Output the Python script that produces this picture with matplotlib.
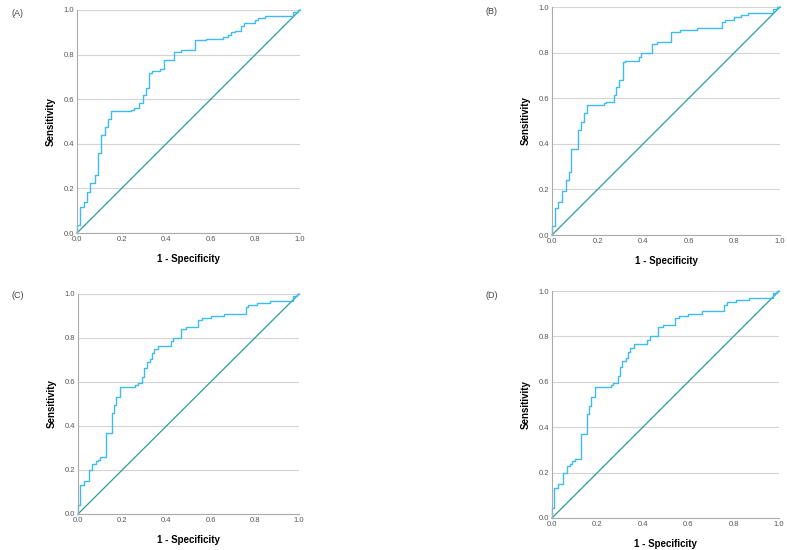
import matplotlib
matplotlib.use("Agg")
import matplotlib.pyplot as plt

plt.rcParams['font.family'] = ['Liberation Sans', 'DejaVu Sans']

# ROC step points: (1 - specificity, sensitivity)
fpr_a = [0, 0, 0.013, 0.013, 0.03, 0.03, 0.045, 0.045, 0.06, 0.06, 0.08, 0.08, 0.093, 0.093,
         0.107, 0.107, 0.124, 0.124, 0.139, 0.139, 0.154, 0.154, 0.24, 0.24, 0.255, 0.255,
         0.28, 0.28, 0.296, 0.296, 0.31, 0.31, 0.325, 0.325, 0.335, 0.335, 0.37, 0.37, 0.39, 0.39,
         0.436, 0.436, 0.465, 0.465, 0.531, 0.531, 0.58, 0.58, 0.654, 0.654, 0.675, 0.675,
         0.69, 0.69, 0.71, 0.71, 0.734, 0.734, 0.75, 0.75, 0.796, 0.796, 0.81, 0.81, 0.845, 0.845,
         0.97, 0.97, 0.99, 0.99, 1.0]
tpr_a = [0, 0.035, 0.035, 0.115, 0.115, 0.14, 0.14, 0.184, 0.184, 0.225, 0.225, 0.26, 0.26, 0.357,
         0.357, 0.44, 0.44, 0.476, 0.476, 0.51, 0.51, 0.545, 0.545, 0.552, 0.552, 0.56,
         0.56, 0.585, 0.585, 0.62, 0.62, 0.649, 0.649, 0.716, 0.716, 0.725, 0.725, 0.735, 0.735, 0.776,
         0.776, 0.81, 0.81, 0.82, 0.82, 0.866, 0.866, 0.872, 0.872, 0.88, 0.88, 0.89,
         0.89, 0.9, 0.9, 0.905, 0.905, 0.93, 0.93, 0.94, 0.94, 0.955, 0.955, 0.965, 0.965, 0.975,
         0.975, 0.99, 0.99, 1.0, 1.0]

fpr_b = [0, 0, 0.013, 0.013, 0.028, 0.028, 0.045, 0.045, 0.06, 0.06, 0.074, 0.074, 0.085, 0.085,
         0.112, 0.112, 0.125, 0.125, 0.14, 0.14, 0.155, 0.155, 0.226, 0.226, 0.235, 0.235,
         0.27, 0.27, 0.28, 0.28, 0.295, 0.295, 0.31, 0.31, 0.32, 0.32, 0.38, 0.38, 0.39, 0.39,
         0.438, 0.438, 0.46, 0.46, 0.52, 0.52, 0.56, 0.56, 0.635, 0.635, 0.745, 0.745,
         0.76, 0.76, 0.8, 0.8, 0.83, 0.83, 0.86, 0.86, 0.97, 0.97, 0.985, 0.985, 1.0]
tpr_b = [0, 0.04, 0.04, 0.12, 0.12, 0.146, 0.146, 0.193, 0.193, 0.24, 0.24, 0.275, 0.275, 0.376,
         0.376, 0.46, 0.46, 0.495, 0.495, 0.534, 0.534, 0.57, 0.57, 0.577, 0.577, 0.585,
         0.585, 0.616, 0.616, 0.65, 0.65, 0.68, 0.68, 0.757, 0.757, 0.765, 0.765, 0.78, 0.78, 0.8,
         0.8, 0.837, 0.837, 0.845, 0.845, 0.891, 0.891, 0.9, 0.9, 0.91, 0.91, 0.935,
         0.935, 0.945, 0.945, 0.955, 0.955, 0.965, 0.965, 0.975, 0.975, 0.99, 0.99, 1.0, 1.0]

fpr_c = [0, 0, 0.011, 0.011, 0.026, 0.026, 0.05, 0.05, 0.065, 0.065, 0.08, 0.08, 0.09, 0.09,
         0.1, 0.1, 0.127, 0.127, 0.154, 0.154, 0.163, 0.163, 0.174, 0.174, 0.189, 0.189,
         0.258, 0.258, 0.27, 0.27, 0.29, 0.29, 0.3, 0.3, 0.31, 0.31, 0.325, 0.325, 0.334, 0.334,
         0.345, 0.345, 0.36, 0.36, 0.42, 0.42, 0.43, 0.43, 0.468, 0.468, 0.49, 0.49,
         0.544, 0.544, 0.56, 0.56, 0.6, 0.6, 0.66, 0.66, 0.758, 0.758, 0.77, 0.77, 0.81, 0.81,
         0.87, 0.87, 0.975, 0.975, 0.99, 0.99, 1.0]
tpr_c = [0, 0.04, 0.04, 0.13, 0.13, 0.15, 0.15, 0.2, 0.2, 0.227, 0.227, 0.24, 0.24, 0.247,
         0.247, 0.257, 0.257, 0.366, 0.366, 0.457, 0.457, 0.495, 0.495, 0.534, 0.534, 0.576,
         0.576, 0.585, 0.585, 0.595, 0.595, 0.625, 0.625, 0.664, 0.664, 0.69, 0.69, 0.705, 0.705, 0.73,
         0.73, 0.75, 0.75, 0.765, 0.765, 0.785, 0.785, 0.8, 0.8, 0.84, 0.84, 0.85,
         0.85, 0.88, 0.88, 0.89, 0.89, 0.9, 0.9, 0.91, 0.91, 0.94, 0.94, 0.95, 0.95, 0.96,
         0.96, 0.97, 0.97, 0.99, 0.99, 1.0, 1.0]

fpr_d = list(fpr_c)
tpr_d = [0, 0.044, 0.044, 0.13, 0.13, 0.151, 0.151, 0.2, 0.2, 0.227, 0.227, 0.24, 0.24, 0.25,
         0.25, 0.26, 0.26, 0.369, 0.369, 0.457, 0.457, 0.495, 0.495, 0.534, 0.534, 0.577,
         0.577, 0.585, 0.585, 0.595, 0.595, 0.625, 0.625, 0.664, 0.664, 0.69, 0.69, 0.705, 0.705, 0.73,
         0.73, 0.75, 0.75, 0.765, 0.765, 0.785, 0.785, 0.8, 0.8, 0.84, 0.84, 0.85,
         0.85, 0.88, 0.88, 0.89, 0.89, 0.9, 0.9, 0.91, 0.91, 0.94, 0.94, 0.95, 0.95, 0.96,
         0.96, 0.97, 0.97, 0.99, 0.99, 1.0, 1.0]

panels = ["(A)", "(B)", "(C)", "(D)"]
curves = [(fpr_a, tpr_a), (fpr_b, tpr_b), (fpr_c, tpr_c), (fpr_d, tpr_d)]
ticks = [0.0, 0.2, 0.4, 0.6, 0.8, 1.0]

W, H = 787, 550
# axes boxes in pixels: left, top, right, bottom
boxes = [(77, 10, 300, 233), (552, 7, 780, 235), (78, 294, 299, 514), (552, 291, 779, 518)]
label_pos = [(12, 14), (486, 11), (12, 296), (486, 295)]

fig = plt.figure(figsize=(W / 100, H / 100), dpi=100)

for (x0, y0, x1, y1), name, (fx, ty), (lx, ly) in zip(boxes, panels, curves, label_pos):
    ax = fig.add_axes([x0 / W, 1 - y1 / H, (x1 - x0) / W, (y1 - y0) / H])
    ax.set_xlim(0, 1)
    ax.set_ylim(0, 1)
    ax.yaxis.grid(True, color="#d4d4d4", linewidth=0.8)
    ax.set_axisbelow(True)
    ax.plot([0, 1], [0, 1], color="#2a9d9a", linewidth=0.9, clip_on=False)
    ax.plot(fx, ty, color="#3dbcf0", linewidth=1.0, clip_on=False)
    ax.set_xticks(ticks)
    ax.set_yticks(ticks)
    ax.set_xticklabels([f"{t:.1f}" for t in ticks])
    ax.set_yticklabels([f"{t:.1f}" for t in ticks])
    ax.tick_params(length=0, labelsize=5.5, colors="#555555", pad=2)
    for s in ("top", "right"):
        ax.spines[s].set_visible(False)
    for s in ("left", "bottom"):
        ax.spines[s].set_color("#aaaaaa")
        ax.spines[s].set_linewidth(0.8)
    ax.set_xlabel("1 - Specificity", fontsize=7, fontweight="bold", labelpad=8)
    ax.set_ylabel("Sensitivity", fontsize=7, fontweight="bold", labelpad=6)
    fig.text(lx / W, 1 - ly / H, name, fontsize=6.5, color="#444444", va="center", ha="left")

fig.savefig("out.png", dpi=100)
